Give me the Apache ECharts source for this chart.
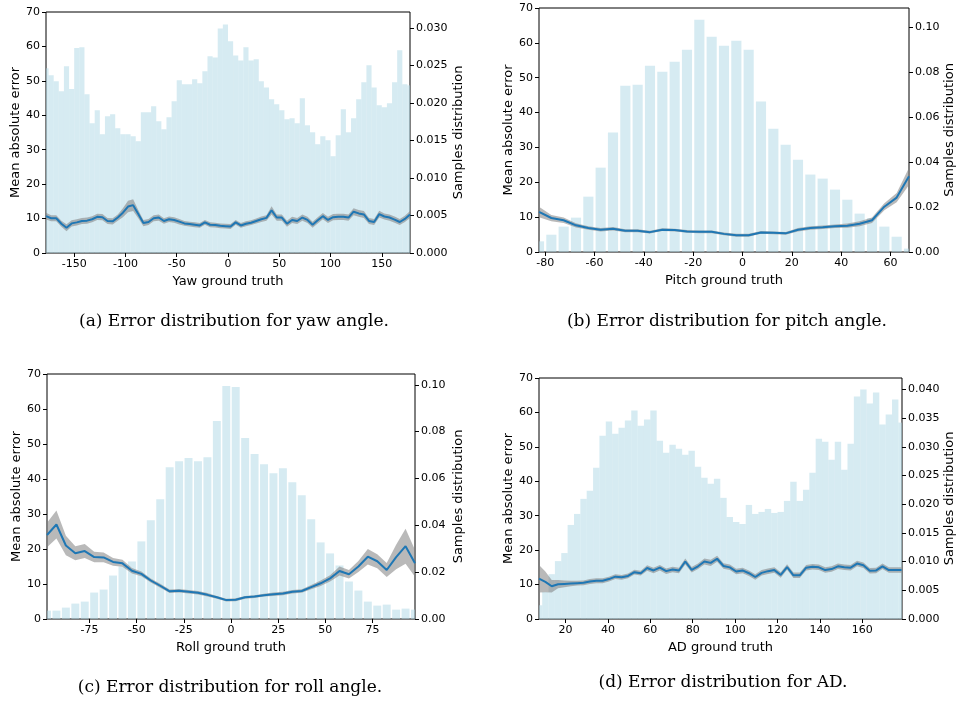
<!DOCTYPE html>
<html><head><meta charset="utf-8">
<script src="https://cdn.jsdelivr.net/npm/echarts@6/dist/echarts.min.js"></script>
<style>html,body{margin:0;padding:0;background:#fff}#c{width:961px;height:702px}</style>
</head><body><div id="c"></div><script>
// ---------- (a) Yaw ----------
const yawCenters = [-177.5,-172.5,-167.5,-162.5,-157.5,-152.5,-147.5,-142.5,-137.5,-132.5,-127.5,-122.5,-117.5,-112.5,-107.5,-102.5,-97.5,-92.5,-87.5,-82.5,-77.5,-72.5,-67.5,-62.5,-57.5,-52.5,-47.5,-42.5,-37.5,-32.5,-27.5,-22.5,-17.5,-12.5,-7.5,-2.5,2.5,7.5,12.5,17.5,22.5,27.5,32.5,37.5,42.5,47.5,52.5,57.5,62.5,67.5,72.5,77.5,82.5,87.5,92.5,97.5,102.5,107.5,112.5,117.5,122.5,127.5,132.5,137.5,142.5,147.5,152.5,157.5,162.5,167.5,172.5,177.5];
const yawSamples = [0.0246,0.02366,0.02286,0.02154,0.02486,0.02185,0.0273,0.0274,0.02114,0.01728,0.0190,0.01582,0.01821,0.01848,0.01662,0.01582,0.01582,0.01555,0.01489,0.01875,0.01875,0.01954,0.01755,0.01648,0.01808,0.0202,0.0230,0.02247,0.02247,0.02313,0.0226,0.0242,0.0262,0.02605,0.0299,0.03044,0.0282,0.02632,0.02565,0.0274,0.02565,0.0258,0.02286,0.02206,0.02047,0.0198,0.0190,0.01781,0.01794,0.01728,0.0206,0.01701,0.01608,0.01449,0.01555,0.01502,0.01289,0.01568,0.01914,0.01608,0.01794,0.02047,0.02273,0.0250,0.02206,0.01967,0.0194,0.01994,0.02273,0.0270,0.02247,0.02233];
const yawError = [10.7,10.1,10.1,8.5,7.35,8.6,8.9,9.3,9.4,9.8,10.5,10.4,9.3,9.2,10.3,11.7,13.5,13.9,11.3,8.7,9.0,10.1,10.3,9.3,9.8,9.6,9.1,8.6,8.4,8.2,8.0,8.9,8.2,8.1,7.9,7.8,7.7,8.9,8.0,8.5,8.8,9.3,9.8,10.2,12.4,10.3,10.3,8.5,9.6,9.3,10.3,9.6,8.2,9.5,10.7,9.6,10.4,10.5,10.5,10.3,12.0,11.5,11.2,9.3,9.0,11.3,10.6,10.3,9.7,9.0,9.9,11.2];
const yawSpread = [1.0,0.9,0.9,0.9,1.0,0.9,0.9,0.9,0.9,0.9,0.9,0.9,0.9,0.9,0.9,1.3,1.7,1.7,1.2,0.9,0.9,0.9,0.9,0.8,0.8,0.8,0.8,0.7,0.7,0.7,0.7,0.7,0.7,0.7,0.7,0.7,0.7,0.7,0.7,0.7,0.7,0.7,0.8,0.8,1.2,0.9,0.9,0.9,0.9,0.9,0.9,0.9,0.9,0.9,0.9,0.9,0.9,0.9,0.9,0.9,1.0,1.0,1.0,0.9,0.9,1.0,0.9,0.9,0.9,0.9,0.9,1.0];
const yawTicks = [-150,-100,-50,0,50,100,150];
const yawRightTicks = [0,0.005,0.010,0.015,0.020,0.025,0.030];

// ---------- (b) Pitch ----------
const pitchCenters = [-82.5,-77.5,-72.5,-67.5,-62.5,-57.5,-52.5,-47.5,-42.5,-37.5,-32.5,-27.5,-22.5,-17.5,-12.5,-7.5,-2.5,2.5,7.5,12.5,17.5,22.5,27.5,32.5,37.5,42.5,47.5,52.5,57.5,62.5,67.5];
const pitchSamples = [0.00475,0.0077,0.0113,0.0153,0.02465,0.03757,0.0532,0.0741,0.07455,0.083,0.0803,0.0848,0.0901,0.1035,0.0959,0.0919,0.0941,0.0901,0.067,0.0549,0.0478,0.0411,0.0345,0.0327,0.0278,0.0233,0.0171,0.0151,0.0113,0.0068,0.0015];
const pitchError = [11.5,9.75,9.1,7.65,6.9,6.4,6.7,6.1,6.1,5.7,6.4,6.3,5.9,5.8,5.8,5.2,4.8,4.8,5.6,5.5,5.35,6.4,6.9,7.1,7.4,7.55,8.1,9.1,13.0,15.6,21.7];
const pitchSpread = [1.5,0.9,0.8,0.6,0.5,0.5,0.5,0.4,0.4,0.4,0.4,0.4,0.4,0.4,0.4,0.4,0.4,0.4,0.4,0.4,0.4,0.5,0.5,0.5,0.5,0.6,0.7,0.8,1.0,1.3,2.5];
const pitchTicks = [-80,-60,-40,-20,0,20,40,60];
const pitchRightTicks = [0,0.02,0.04,0.06,0.08,0.10];

// ---------- (c) Roll ----------
const rollCenters = [-97.5,-92.5,-87.5,-82.5,-77.5,-72.5,-67.5,-62.5,-57.5,-52.5,-47.5,-42.5,-37.5,-32.5,-27.5,-22.5,-17.5,-12.5,-7.5,-2.5,2.5,7.5,12.5,17.5,22.5,27.5,32.5,37.5,42.5,47.5,52.5,57.5,62.5,67.5,72.5,77.5,82.5,87.5,92.5,97.5];
const rollSamples = [0.00357,0.00357,0.00486,0.00657,0.00743,0.01128,0.01257,0.01856,0.02242,0.02456,0.03313,0.04213,0.05112,0.06483,0.0674,0.06869,0.0674,0.06911,0.08454,0.09953,0.0991,0.07725,0.0704,0.06612,0.06226,0.0644,0.0584,0.05284,0.04255,0.0327,0.028,0.02285,0.016,0.01214,0.00743,0.00571,0.00614,0.004,0.00443,0.004];
const rollError = [24.0,27.0,21.0,18.8,19.4,17.7,17.6,16.3,15.9,13.8,12.9,11.0,9.5,7.9,8.1,7.8,7.5,6.9,6.2,5.4,5.5,6.2,6.4,6.8,7.05,7.3,7.8,8.0,9.1,10.2,11.6,13.7,12.8,15.0,17.8,16.5,14.0,17.7,20.8,15.9];
const rollSpread = [3.5,4.0,2.8,2.0,2.0,1.5,1.4,1.1,1.0,0.8,0.7,0.6,0.6,0.5,0.5,0.5,0.5,0.5,0.4,0.4,0.4,0.4,0.4,0.4,0.5,0.5,0.5,0.5,0.6,0.8,0.9,1.3,1.2,1.6,2.2,2.0,2.0,3.5,5.0,3.8];
const rollTicks = [-75,-50,-25,0,25,50,75];
const rollRightTicks = [0,0.02,0.04,0.06,0.08,0.10];

// ---------- (d) AD ----------
const adCenters = [7.5,10.5,13.5,16.5,19.5,22.5,25.5,28.5,31.5,34.5,37.5,40.5,43.5,46.5,49.5,52.5,55.5,58.5,61.5,64.5,67.5,70.5,73.5,76.5,79.5,82.5,85.5,88.5,91.5,94.5,97.5,100.5,103.5,106.5,109.5,112.5,115.5,118.5,121.5,124.5,127.5,130.5,133.5,136.5,139.5,142.5,145.5,148.5,151.5,154.5,157.5,160.5,163.5,166.5,169.5,172.5,175.5,178.5];
const adSamples = [0.00239,0.00472,0.00781,0.01009,0.01149,0.01639,0.01831,0.02093,0.02233,0.02636,0.03195,0.0344,0.0323,0.03335,0.03458,0.03633,0.0337,0.03475,0.03633,0.03108,0.02898,0.03038,0.02968,0.02863,0.02933,0.02653,0.02461,0.02356,0.02443,0.02111,0.01778,0.01691,0.01656,0.01988,0.01831,0.01866,0.01918,0.01848,0.01866,0.02058,0.02391,0.02058,0.02251,0.02548,0.03143,0.0309,0.02776,0.0309,0.026,0.03055,0.03878,0.04,0.03755,0.03948,0.03388,0.03563,0.03825,0.03423];
const adError = [11.7,10.8,9.5,10.1,10.2,10.3,10.4,10.5,10.9,11.1,11.1,11.6,12.3,12.1,12.5,13.6,13.3,14.8,14.1,14.9,13.9,14.4,14.1,16.7,14.3,15.3,16.7,16.3,17.5,15.4,15.0,13.8,14.1,13.3,12.2,13.4,13.9,14.2,12.8,15.1,12.7,12.7,14.9,15.2,15.0,14.2,14.5,15.3,15.0,14.9,16.1,15.6,14.0,14.1,15.3,14.2,14.2,14.2];
const adSpread = [4.0,3.0,1.8,1.2,1.0,0.8,0.7,0.7,0.7,0.7,0.7,0.7,0.7,0.7,0.7,0.7,0.7,0.8,0.8,0.8,0.8,0.8,0.8,0.9,0.8,0.8,0.9,0.9,0.9,0.8,0.8,0.8,0.8,0.8,0.8,0.8,0.8,0.8,0.8,0.8,0.8,0.8,0.8,0.8,0.8,0.8,0.8,0.8,0.8,0.8,0.8,0.8,0.8,0.8,0.8,0.8,0.8,0.8];
const adTicks = [20,40,60,80,100,120,140,160];
const adRightTicks = [0,0.005,0.010,0.015,0.020,0.025,0.030,0.035,0.040];

const leftTicks = [0,10,20,30,40,50,60,70];

const panels = [
  {centers:yawCenters, samples:yawSamples, err:yawError, spread:yawSpread, xTicks:yawTicks, rTicks:yawRightTicks,
   xName:'Yaw ground truth', xmin:-177.5, xmax:177.5, rmax:0.0321, dec:3, bin:5, ratio:1.0,
   grid:{left:46, top:12, width:364, height:241}, rGap:42, caption:'(a) Error distribution for yaw angle.', cap:[234,322]},
  {centers:pitchCenters, samples:pitchSamples, err:pitchError, spread:pitchSpread, xTicks:pitchTicks, rTicks:pitchRightTicks,
   xName:'Pitch ground truth', xmin:-82.5, xmax:67.5, rmax:0.1087, dec:2, bin:5, ratio:0.82,
   grid:{left:539, top:8, width:370, height:244}, rGap:33, caption:'(b) Error distribution for pitch angle.', cap:[727,322]},
  {centers:rollCenters, samples:rollSamples, err:rollError, spread:rollSpread, xTicks:rollTicks, rTicks:rollRightTicks,
   xName:'Roll ground truth', xmin:-97.5, xmax:97.5, rmax:0.1046, dec:2, bin:5, ratio:0.84,
   grid:{left:47, top:374, width:368, height:245}, rGap:37, caption:'(c) Error distribution for roll angle.', cap:[230,688]},
  {centers:adCenters, samples:adSamples, err:adError, spread:adSpread, xTicks:adTicks, rTicks:adRightTicks,
   xName:'AD ground truth', xmin:7.5, xmax:178.7, rmax:0.0420, dec:3, bin:3, ratio:1.0,
   grid:{left:539, top:378, width:363, height:241}, rGap:40, caption:'(d) Error distribution for AD.', cap:[723,683]}
];

const SANS = 'DejaVu Sans';
const tickLabel = {color:'#000', fontSize:11, fontFamily:SANS};
const nameStyle = {color:'#000', fontSize:13, fontFamily:SANS};

const grids=[], xAxes=[], yAxes=[], series=[], graphics=[];
panels.forEach((p,i)=>{
  grids.push(Object.assign({show:true, borderColor:'#000', borderWidth:1, backgroundColor:'transparent'}, p.grid));
  xAxes.push({type:'value', gridIndex:i, min:p.xmin, max:p.xmax,
    axisLine:{show:false, onZero:false}, splitLine:{show:false},
    axisTick:{show:true, length:4, lineStyle:{color:'#000'}, customValues:p.xTicks},
    axisLabel:Object.assign({margin:6, customValues:p.xTicks}, tickLabel),
    name:p.xName, nameLocation:'middle', nameGap:22, nameTextStyle:nameStyle});
  yAxes.push({type:'value', gridIndex:i, position:'left', min:0, max:70,
    axisLine:{show:false, onZero:false}, splitLine:{show:false},
    axisTick:{show:true, length:4, lineStyle:{color:'#000'}, customValues:leftTicks},
    axisLabel:Object.assign({margin:6, customValues:leftTicks}, tickLabel),
    name:'Mean absolute error', nameLocation:'middle', nameRotate:90, nameGap:24, nameTextStyle:nameStyle});
  yAxes.push({type:'value', gridIndex:i, position:'right', min:0, max:p.rmax,
    axisLine:{show:false, onZero:false}, splitLine:{show:false},
    axisTick:{show:true, length:4, lineStyle:{color:'#000'}, customValues:p.rTicks},
    axisLabel:Object.assign({margin:6, customValues:p.rTicks, formatter:(v)=>Number(v).toFixed(p.dec)}, tickLabel),
    name:'Samples distribution', nameLocation:'middle', nameRotate:90, nameGap:p.rGap, nameTextStyle:nameStyle});
  const w = p.bin*p.ratio;
  // histogram bars
  series.push({type:'custom', xAxisIndex:i, yAxisIndex:2*i+1, z:1,
    data:p.centers.map((c,k)=>[c,p.samples[k]]),
    renderItem:(params, api)=>{
      const x=api.value(0), v=api.value(1);
      const a=api.coord([x-w/2,0]), b=api.coord([x+w/2,v]);
      const cs=params.coordSys;
      const r=echarts.graphic.clipRectByRect({x:a[0], y:b[1], width:b[0]-a[0], height:a[1]-b[1]},
        {x:cs.x, y:cs.y, width:cs.width, height:cs.height});
      return r && {type:'rect', shape:r, style:{fill:'rgba(173,216,230,0.5)'}};
    }});
  // confidence band
  series.push({type:'custom', xAxisIndex:i, yAxisIndex:2*i, z:2,
    data:[[p.centers[0], p.err[0]]],
    renderItem:(params, api)=>{
      const up=[], lo=[];
      p.centers.forEach((c,k)=>{
        up.push(api.coord([c, p.err[k]+p.spread[k]]));
        lo.push(api.coord([c, p.err[k]-p.spread[k]]));
      });
      return {type:'polygon', shape:{points:up.concat(lo.reverse())}, style:{fill:'rgba(128,128,128,0.55)'}};
    }});
  // mean line
  series.push({type:'line', xAxisIndex:i, yAxisIndex:2*i, z:3, showSymbol:false, symbol:'none',
    data:p.centers.map((c,k)=>[c,p.err[k]]), lineStyle:{color:'#1f77b4', width:2}, animation:false});
  graphics.push({type:'text', x:p.cap[0], y:p.cap[1],
    style:{text:p.caption, fontSize:17, fontFamily:'DejaVu Serif', fill:'#000', align:'center', verticalAlign:'middle'}});
});

const chart = echarts.init(document.getElementById('c'), null, {renderer:'canvas'});
chart.setOption({animation:false, grid:grids, xAxis:xAxes, yAxis:yAxes, series:series, graphic:graphics});
</script></body></html>
